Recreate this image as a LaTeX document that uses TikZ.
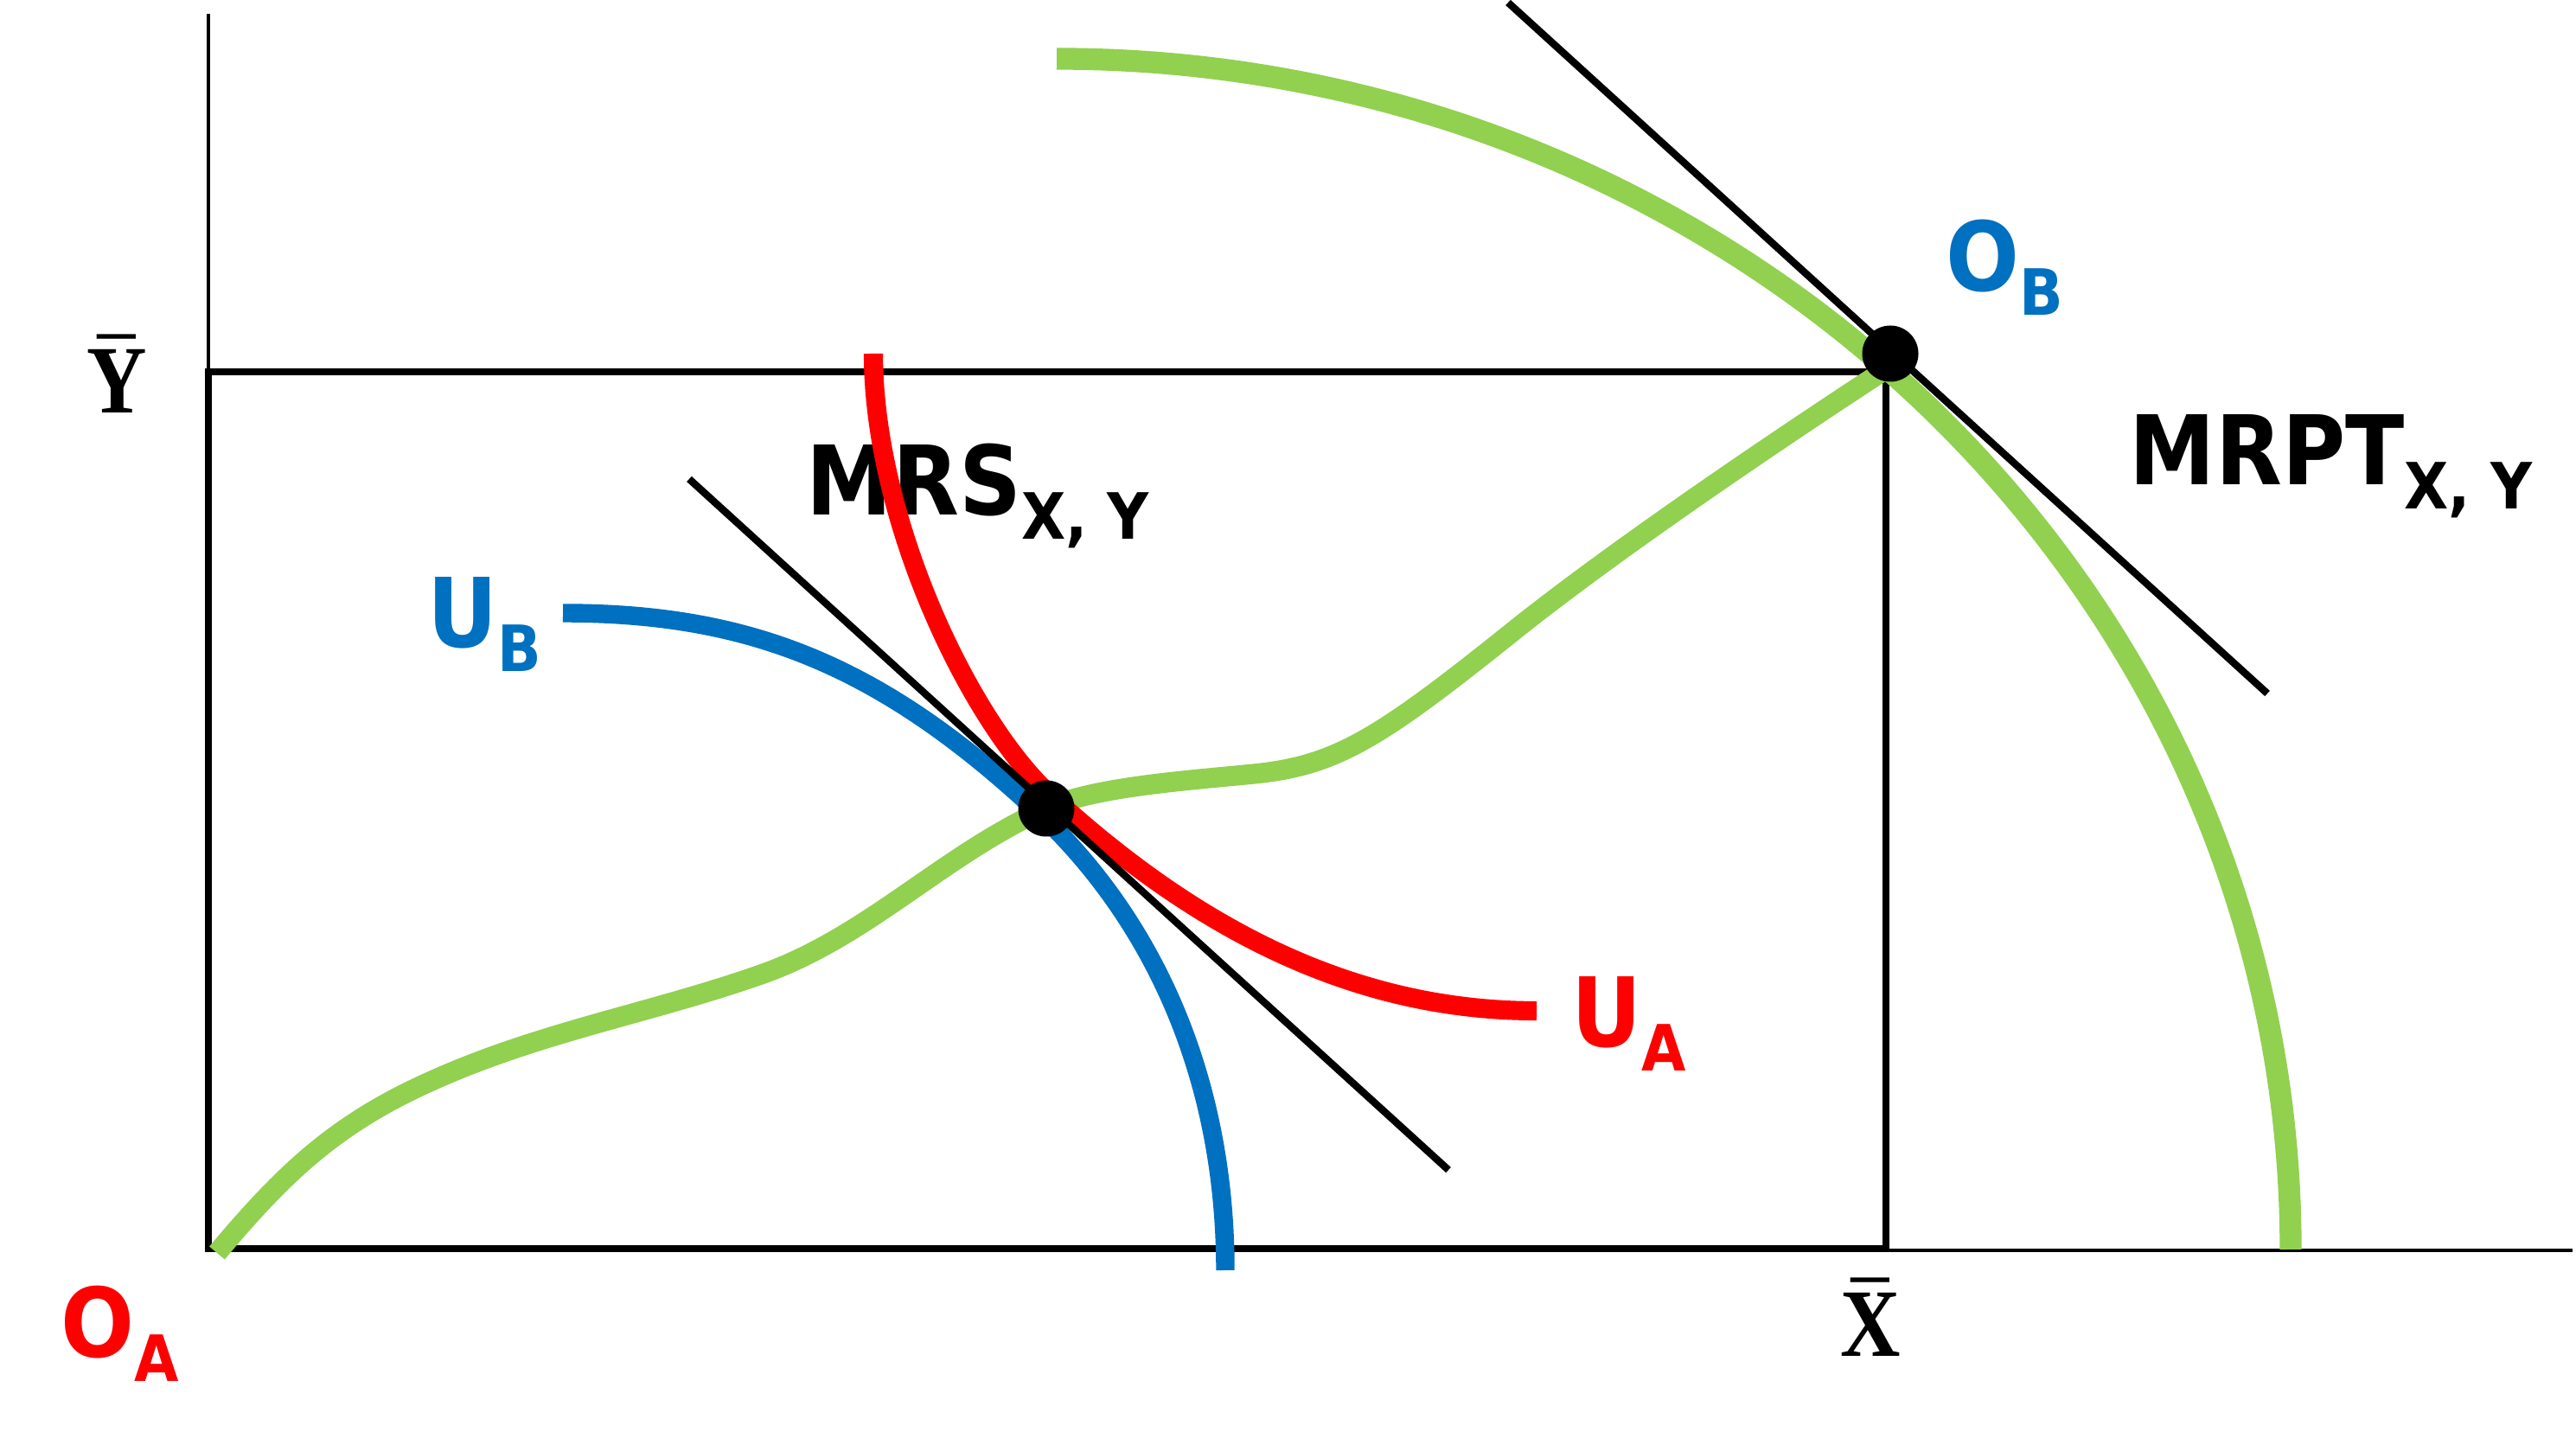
\RequirePackage{fix-cm}
\documentclass[tikz,border=0pt]{standalone}
\usepackage{fontspec}
\usepackage{amsmath}
\usepackage{tikz}
\usetikzlibrary{positioning}

\newfontfamily\labfont[FakeStretch=0.9]{DejaVu Sans}
\newfontfamily\barfont[FakeStretch=0.86]{Liberation Serif}
\definecolor{cgreen}{HTML}{92D050}
\definecolor{cblue}{HTML}{0070C0}
\definecolor{cred}{HTML}{FF0000}
\newcommand{\lab}[2]{{\fontsize{31.6}{36}\selectfont #1}{\fontsize{21}{24}\selectfont\raisebox{-7.7pt}{#2}}}

\begin{document}
\begin{tikzpicture}[
	box/.style={line width=2.5pt},
	axis/.style={line width=1.4pt},
	tang/.style={line width=2.4pt},
	curve/.style={line width=6.1pt},
	dot/.style={circle, fill=black, inner sep=0pt, minimum size=0.65cm},
	lbl/.style={anchor=base west, inner sep=0pt, font=\labfont\bfseries},
	sym/.style={anchor=base, inner sep=0pt, font=\fontsize{31.8}{36}\selectfont\barfont\bfseries\boldmath}
]
	\useasboundingbox (0,0) rectangle (29.79,16.63);
	\draw[box] (2.41,2.19) rectangle (21.81,12.33);
	\draw[axis] (2.41,12.33) -- (2.41,16.47);
	\draw[axis] (21.81,2.17) -- (29.75,2.17);
	\node[lbl] (MRS) at (9.32,10.67) {\lab{MRS}{X, Y}};
	\node[lbl] (MRPT) at (24.62,11.02) {\lab{MRPT}{X, Y}};
	\node[lbl, text=cred] (OA) at (0.70,0.93) {\lab{O}{A}};
	\node[lbl, text=cblue] (OB) at (22.50,13.26) {\lab{O}{B}};
	\node[lbl, text=cblue] (UB) at (4.94,9.14) {\lab{U}{B}};
	\node[lbl, text=cred] (UA) at (18.17,4.52) {\lab{U}{A}};
	\node[sym] (Ybar) at (1.35,11.85) {$\bar{\textbf{Y}}$};
	\node[sym] (Xbar) at (21.63,0.94) {$\bar{\textbf{X}}$};
	\draw[curve, cgreen, line width=7.2pt] (12.22,15.95) arc[start angle=90, end angle=0, x radius=14.27, y radius=13.77];
	\draw[curve, cgreen, line width=6.6pt] (2.51,2.14) .. controls (3.28,3.06) and (3.88,3.63) .. (4.97,4.12)
		.. controls (6.25,4.70) and (7.52,4.91) .. (8.80,5.36)
		.. controls (10.03,5.79) and (10.91,6.75) .. (12.10,7.28)
		.. controls (12.65,7.53) and (13.70,7.60) .. (14.50,7.68)
		.. controls (15.45,7.775) and (15.94,8.08) .. (17.50,9.33)
		.. controls (18.75,10.33) and (20.75,11.67) .. (21.84,12.38);
	\draw[curve, cblue] (6.51,9.54) .. controls (8.62,9.54) and (10.14,8.97) .. (11.96,7.28)
		.. controls (13.40,5.95) and (14.17,4.08) .. (14.17,1.94);
	\draw[curve, cred, line width=6.3pt] (10.10,12.54) .. controls (10.10,10.61) and (11.22,8.29) .. (12.13,7.45)
		.. controls (13.90,5.82) and (15.73,4.94) .. (17.77,4.94);
	\coordinate (m1) at (7.97,11.09);
	\coordinate (m2) at (16.75,3.10);
	\coordinate (p1) at (17.44,16.60);
	\coordinate (p2) at (26.22,8.61);
	\draw[tang] (m1) -- (m2);
	\draw[tang] (p1) -- (p2);
	\node[dot] (E1) at (12.10,7.28) {};
	\node[dot] (E2) at (21.86,12.54) {};
\end{tikzpicture}
\end{document}
